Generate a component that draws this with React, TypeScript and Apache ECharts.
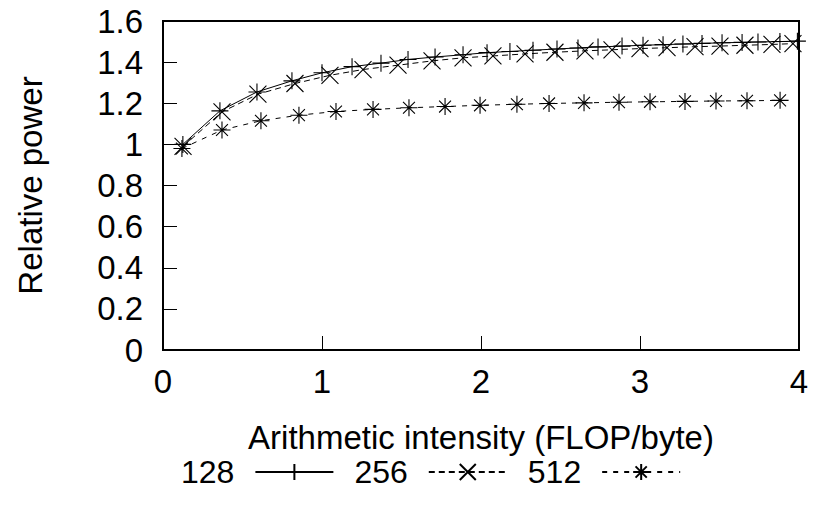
import React, { useEffect, useRef } from "react";
import * as echarts from "echarts";

const seriesNames = ["128", "256", "512"];

const x128 = [0.125, 0.358, 0.591, 0.811, 1.0, 1.189, 1.371, 1.541, 1.711, 1.887, 2.038, 2.182, 2.327, 2.478, 2.61, 2.736, 2.887, 3.019, 3.145, 3.27, 3.39, 3.516, 3.642, 3.742, 3.88, 3.99];
const y128 = [1.0, 1.163, 1.255, 1.309, 1.348, 1.378, 1.395, 1.413, 1.425, 1.436, 1.446, 1.452, 1.458, 1.464, 1.469, 1.474, 1.478, 1.482, 1.485, 1.488, 1.491, 1.494, 1.496, 1.498, 1.5, 1.502];

const x256 = [0.126, 0.371, 0.597, 0.83, 1.05, 1.258, 1.478, 1.692, 1.887, 2.075, 2.277, 2.465, 2.654, 2.824, 3.0, 3.17, 3.346, 3.503, 3.66, 3.83, 3.962];
const y256 = [0.99, 1.158, 1.244, 1.296, 1.336, 1.364, 1.385, 1.406, 1.421, 1.43, 1.44, 1.448, 1.455, 1.46, 1.466, 1.47, 1.475, 1.478, 1.482, 1.486, 1.49];

const x512 = [0.119, 0.371, 0.616, 0.855, 1.088, 1.321, 1.547, 1.774, 1.994, 2.226, 2.428, 2.648, 2.868, 3.063, 3.283, 3.478, 3.673, 3.881];
const y512 = [0.98, 1.07, 1.115, 1.142, 1.16, 1.17, 1.178, 1.184, 1.19, 1.195, 1.199, 1.202, 1.205, 1.207, 1.209, 1.211, 1.212, 1.214];

const yTicks = [0, 0.2, 0.4, 0.6, 0.8, 1, 1.2, 1.4, 1.6];
const xTicks = [0, 1, 2, 3, 4];

const PLUS = "path://M10,0L10,20M0,10L20,10";
const CROSS = "path://M0,0L20,20M0,20L20,0";
const STAR = "path://M10,0L10,20M0,10L20,10M3,3L17,17M3,17L17,3";

const FONT = "'Liberation Sans', Arial, Helvetica, sans-serif";

function pairs(xs: number[], ys: number[]) {
  return xs.map((x, i) => [x, ys[i]]);
}

export default function App() {
  const ref = useRef<HTMLDivElement>(null);
  useEffect(() => {
    document.body.style.margin = "0";
    if (!ref.current) return;
    const chart = echarts.init(ref.current, undefined, { renderer: "svg" });
    const mk = (name: string, data: number[][], symbol: string, type: any) => ({
      name,
      type: "line",
      data,
      symbol,
      symbolSize: 17,
      showAllSymbol: true,
      itemStyle: { color: "none", borderColor: "#000", borderWidth: 1.1 },
      lineStyle: { color: "#000", width: 1, type },
      emphasis: { disabled: true },
    });
    chart.setOption({
      animation: false,
      textStyle: { fontFamily: FONT },
      grid: {
        left: 163,
        right: 15,
        top: 21,
        bottom: 156,
        show: true,
        borderColor: "#000",
        borderWidth: 2,
        backgroundColor: "transparent",
      },
      xAxis: {
        type: "value",
        min: xTicks[0],
        max: xTicks[xTicks.length - 1],
        interval: 1,
        name: "Arithmetic intensity (FLOP/byte)",
        nameLocation: "middle",
        nameGap: 71,
        nameTextStyle: { fontSize: 33, color: "#000", fontFamily: FONT },
        axisLine: { show: true, lineStyle: { color: "#000", width: 2 } },
        axisTick: { show: true, inside: true, length: 14, lineStyle: { color: "#000", width: 1 } },
        axisLabel: { fontSize: 33, color: "#000", margin: 15, fontFamily: FONT },
        splitLine: { show: false },
      },
      yAxis: {
        type: "value",
        min: yTicks[0],
        max: yTicks[yTicks.length - 1],
        interval: 0.2,
        name: "Relative power",
        nameLocation: "middle",
        nameGap: 116,
        nameTextStyle: { fontSize: 33, color: "#000", fontFamily: FONT },
        axisLine: { show: true, lineStyle: { color: "#000", width: 2 } },
        axisTick: { show: true, inside: true, length: 14, lineStyle: { color: "#000", width: 1 } },
        axisLabel: {
          fontSize: 33,
          color: "#000",
          margin: 20,
          fontFamily: FONT,
          formatter: (v: number) => String(Number(v.toFixed(1))),
        },
        splitLine: { show: false },
      },
      legend: {
        bottom: 13,
        left: 176,
        align: "right",
        itemWidth: 78,
        itemHeight: 20,
        itemGap: 20,
        selectedMode: false,
        textStyle: { fontSize: 32, color: "#000", fontFamily: FONT, padding: [0, 16, 0, 0] },
        data: seriesNames,
      },
      series: [
        mk(seriesNames[0], pairs(x128, y128), PLUS, "solid"),
        mk(seriesNames[1], pairs(x256, y256), CROSS, [6, 4]),
        mk(seriesNames[2], pairs(x512, y512), STAR, [5, 6]),
      ],
    });
    return () => chart.dispose();
  }, []);
  return <div ref={ref} style={{ width: 814, height: 506 }} />;
}
